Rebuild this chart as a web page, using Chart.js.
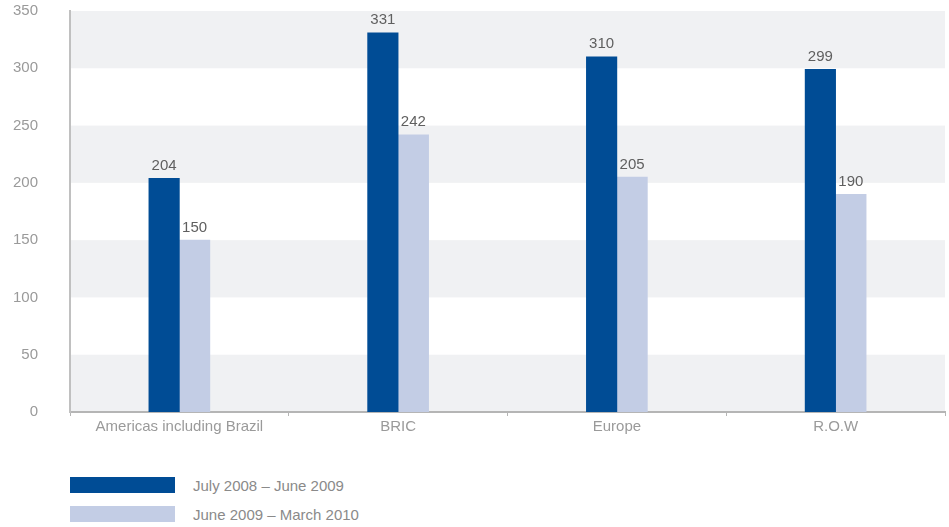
<!DOCTYPE html>
<html lang="en">
<head>
    <meta charset="UTF-8">
    <title>Regional comparison</title>
    <script src="https://cdn.jsdelivr.net/npm/chart.js@4.4.1/dist/chart.umd.min.js"></script>
    <style>
        body {
            margin: 0;
            background: #fff;
            font-family: "Liberation Sans", Arial, sans-serif;
        }
        #wrap {
            position: relative;
            width: 949px;
            height: 527px;
        }
        #chartBox {
            position: absolute;
            left: 0;
            top: 0;
            width: 949px;
            height: 450px;
        }
        #legend {
            position: absolute;
            left: 70px;
            top: 477px;
        }
        .item {
            display: flex;
            align-items: center;
            height: 16px;
            margin-bottom: 13px;
            font-size: 15px;
            color: #8a8a8a;
        }
        .swatch {
            width: 105px;
            height: 16px;
            margin-right: 18px;
        }
    </style>
</head>
<body>
<div id="wrap">
    <div id="chartBox"><canvas id="chart"></canvas></div>
    <div id="legend"></div>
</div>
<script>
    const categories = ['Americas including Brazil', 'BRIC', 'Europe', 'R.O.W'];
    const seriesNames = ['July 2008 \u2013 June 2009', 'June 2009 \u2013 March 2010'];
    const firstPeriod = [204, 331, 310, 299];
    const secondPeriod = [150, 242, 205, 190];
    const colors = ['#004c95', '#c3cde5'];

    // shaded bands on 0-50, 100-150, 200-250, 300-350
    const bandPlugin = {
        id: 'bands',
        beforeDraw(chart) {
            const { ctx, chartArea, scales } = chart;
            const y = scales.y;
            ctx.save();
            ctx.fillStyle = '#f0f1f3';
            for (let v = 0; v < 350; v += 100) {
                const top = y.getPixelForValue(v + 50);
                const bottom = y.getPixelForValue(v);
                ctx.fillRect(chartArea.left, top, chartArea.right - chartArea.left, bottom - top);
            }
            ctx.restore();
        }
    };

    const valueLabels = {
        id: 'valueLabels',
        afterDatasetsDraw(chart) {
            const { ctx } = chart;
            ctx.save();
            ctx.font = '15px "Liberation Sans", Arial, sans-serif';
            ctx.fillStyle = '#5f5f5f';
            ctx.textAlign = 'center';
            ctx.textBaseline = 'bottom';
            chart.data.datasets.forEach((ds, i) => {
                chart.getDatasetMeta(i).data.forEach((bar, j) => {
                    ctx.fillText(ds.data[j], bar.x, bar.y - 5);
                });
            });
            ctx.restore();
        }
    };

    const chart = new Chart(document.getElementById('chart'), {
        type: 'bar',
        data: {
            labels: categories,
            datasets: [
                { label: seriesNames[0], data: firstPeriod, backgroundColor: colors[0], barThickness: 30.5 },
                { label: seriesNames[1], data: secondPeriod, backgroundColor: colors[1], barThickness: 30.5 }
            ]
        },
        options: {
            responsive: true,
            maintainAspectRatio: false,
            animation: false,
            layout: { padding: { top: 11, right: 4, left: 0, bottom: 0 } },
            plugins: {
                legend: { display: false },
                tooltip: { enabled: false }
            },
            scales: {
                x: {
                    grid: {
                        offset: true,
                        drawOnChartArea: false,
                        color: '#b5b5b5',
                        tickLength: 4
                    },
                    border: { color: '#b5b5b5', width: 2 },
                    ticks: {
                        color: '#9a9a9a',
                        maxRotation: 0,
                        autoSkip: false,
                        font: { size: 15, family: '"Liberation Sans", Arial, sans-serif' },
                        padding: 2
                    },
                    afterFit(scale) { scale.height = 38; }
                },
                y: {
                    min: 0,
                    max: 350,
                    grid: { display: false },
                    border: { color: '#c0c0c0', width: 2 },
                    ticks: {
                        stepSize: 50,
                        color: '#9a9a9a',
                        padding: 24,
                        font: { size: 15, family: '"Liberation Sans", Arial, sans-serif' }
                    },
                    afterFit(scale) {
                        scale.width = 70;
                        scale.paddingTop = 0;
                        scale.paddingBottom = 0;
                    }
                }
            }
        },
        plugins: [bandPlugin, valueLabels]
    });

    // legend
    const legend = document.getElementById('legend');
    seriesNames.forEach((name, i) => {
        const item = document.createElement('div');
        item.className = 'item';
        item.innerHTML = '<span class="swatch" style="background:' + colors[i] + '"></span><span>' + name + '</span>';
        legend.appendChild(item);
    });
</script>
</body>
</html>
